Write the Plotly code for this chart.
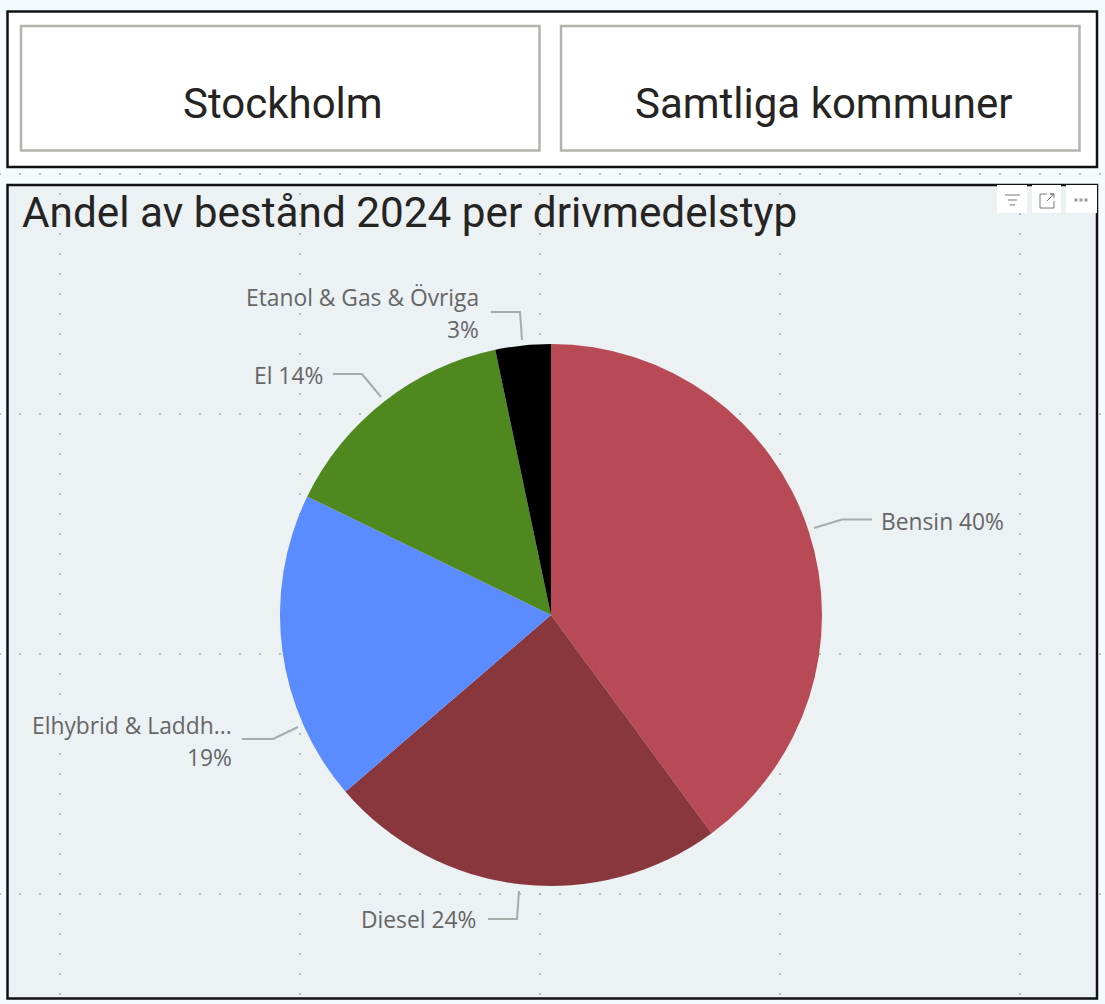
import math
import numpy as np
import plotly.graph_objects as go

labels = ["Bensin", "Diesel", "Elhybrid & Laddhybrid", "El", "Etanol & Gas & Övriga"]
values = [39.9, 23.8, 18.5, 14.5, 3.3]
colors = ["#B84A56", "#89363D", "#5A8CFF", "#4E881E", "#000000"]
label_texts = ["Bensin 40%", "Diesel 24%", "Elhybrid & Laddh...", "19%", "El 14%", "Etanol & Gas & Övriga", "3%"]
titles = ["Stockholm", "Samtliga kommuner"]
chart_title = "Andel av bestånd 2024 per drivmedelstyp"

W, H = 1105, 1004
CX, CY, R = 551, 615, 271

fig = go.Figure()

# background dot grid
hx = np.arange(0, W + 1, 20)
hy = np.array([174, 414, 654, 894])
vx = np.array([60, 300, 540, 780, 1020])
vy = np.arange(194, 1000, 20)
gx = np.concatenate([np.repeat(hx, len(hy)), np.repeat(vx, len(vy))])
gy = np.concatenate([np.tile(hy, len(hx)), np.tile(vy, len(vx))])
fig.add_trace(go.Scatter(x=gx, y=gy, mode="markers", hoverinfo="skip", showlegend=False,
                         marker=dict(size=2, color="#a3a8ab", line_width=0)))

fig.add_trace(go.Pie(labels=labels, values=values, sort=False, direction="clockwise", rotation=0,
                     marker=dict(colors=colors, line=dict(width=0)), textinfo="none", hoverinfo="label+percent",
                     showlegend=False,
                     domain=dict(x=[(CX - R) / W, (CX + R) / W], y=[1 - (CY + R) / H, 1 - (CY - R) / H])))

shapes = []
def rect(x0, y0, x1, y1, fill, line="rgba(0,0,0,0)", w=0, layer="below"):
    shapes.append(dict(type="rect", x0=x0, y0=y0, x1=x1, y1=y1, fillcolor=fill, layer=layer,
                       line=dict(color=line, width=w), xref="x", yref="y"))
def seg(pts, color="#A9ABA9", w=2):
    d = "M" + " L".join(f"{a},{b}" for a, b in pts)
    shapes.append(dict(type="path", path=d, line=dict(color=color, width=w), xref="x", yref="y", layer="above"))

rect(7.5, 11.5, 1097, 167, "#FFFFFF", "#111111", 2.5)
rect(21, 26, 539.5, 150.5, "#FFFFFF", "#B3B3AE", 2.5)
rect(561, 26, 1079.5, 150.5, "#FFFFFF", "#B3B3AE", 2.5)
rect(7.5, 185, 1097, 998.5, "#ECF1F4", "#111111", 2.5)

# leader lines
seg([(814, 528), (842, 519.5), (872, 519.5)])
seg([(519, 891), (517, 919), (488, 919)])
seg([(298, 727), (273, 739), (242, 739)])
seg([(381, 397), (362, 374), (333, 374)])
seg([(522, 340), (520, 312), (491, 312)])

# visual header icons
for x0, x1 in [(997, 1027), (1032, 1061), (1066, 1097)]:
    rect(x0, 185, x1, 213, "#FFFFFF", layer="above")
seg([(1005, 195), (1020, 195)], "#777777", 1)
seg([(1008, 200), (1017, 200)], "#777777", 1)
seg([(1010, 205), (1015, 205)], "#777777", 1)
seg([(1047, 194), (1040, 194), (1040, 208), (1054, 208), (1054, 201)], "#777777", 1)
seg([(1047, 201), (1054, 194), (1050, 194), (1054, 194), (1054, 198)], "#777777", 1)
for dx in (1076, 1081, 1086):
    rect(dx - 1.5, 198.5, dx + 1.5, 201.5, "#999999", layer="above")

ann = []
def text(x, y, t, size, color, anchor="left", font="Inter", weight=400):
    ann.append(dict(x=x, y=y, text=t, xref="x", yref="y", showarrow=False, xanchor=anchor, yanchor="middle",
                    align="right" if anchor == "right" else "left",
                    font=dict(family=font, size=size, color=color, weight=weight)))

text(283, 103.5, titles[0], 42, "#252423", "center", "Roboto")
text(823.5, 103.5, titles[1], 42, "#252423", "center", "Roboto")
text(20, 212.5, chart_title, 42.3, "#252423", "left", "Roboto")

lab_font = "Open Sans"
S = 22.8
text(879, 521, label_texts[0], S, "#666666", "left", lab_font)
text(478, 919, label_texts[1], S, "#666666", "right", lab_font)
text(234, 725, label_texts[2], S, "#666666", "right", lab_font)
text(234, 757, label_texts[3], S, "#666666", "right", lab_font)
text(325, 375, label_texts[4], S, "#666666", "right", lab_font)
text(481, 297, label_texts[5], S, "#666666", "right", lab_font)
text(481, 329, label_texts[6], S, "#666666", "right", lab_font)

fig.update_layout(width=W, height=H, margin=dict(l=0, r=0, t=0, b=0), paper_bgcolor="#F3FBFE",
                  plot_bgcolor="rgba(0,0,0,0)", shapes=shapes, annotations=ann, showlegend=False,
                  xaxis=dict(range=[0, W], visible=False, fixedrange=True),
                  yaxis=dict(range=[H, 0], visible=False, fixedrange=True))
fig.write_html("out.html", config=dict(displayModeBar=False),
               post_script="document.body.style.margin='0';document.body.style.background='#F3FBFE';document.documentElement.style.overflow='hidden';")
